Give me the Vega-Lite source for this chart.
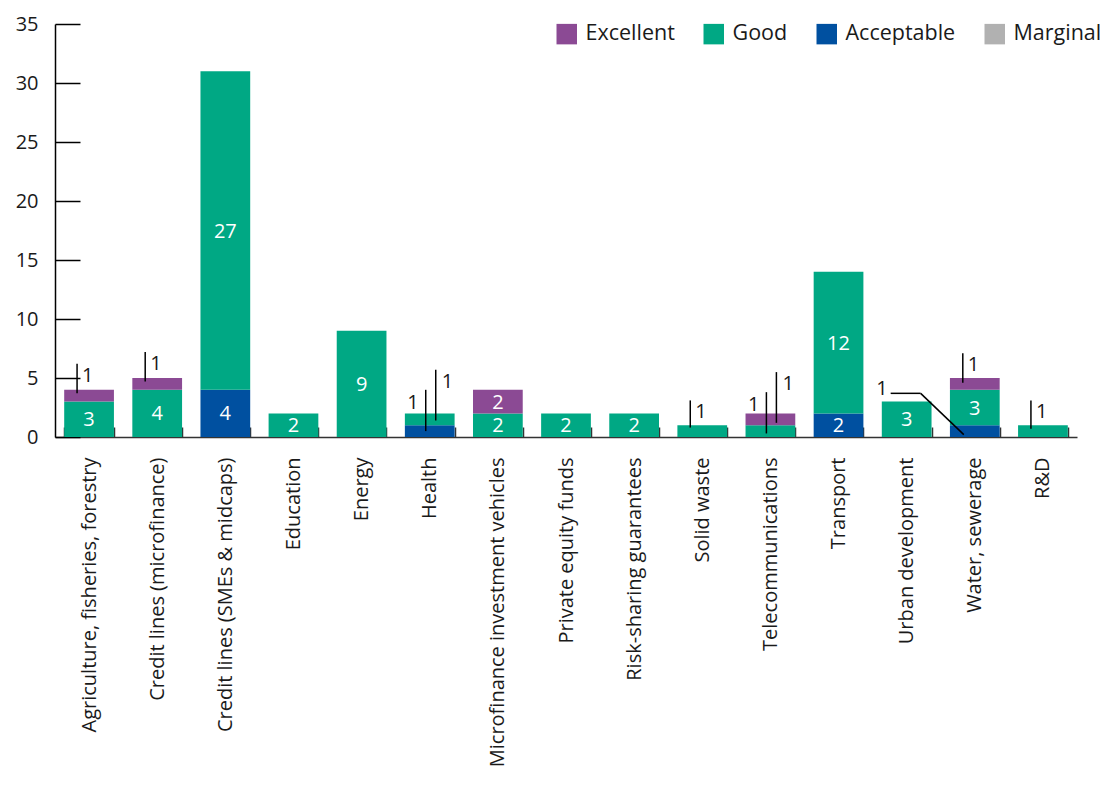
{
  "$schema": "https://vega.github.io/schema/vega-lite/v6.json",
  "width": 1022,
  "height": 413,
  "autosize": {"type": "none"},
  "padding": {"left": 55, "top": 24, "right": 24, "bottom": 352},
  "background": "white",
  "config": {
    "font": "Open Sans",
    "view": {"stroke": null},
    "axis": {"labelFont": "Open Sans", "labelColor": "#1a1a1a"},
    "legend": {"labelFont": "Open Sans"}
  },
  "datasets": {
    "ratings": [
      {"sector": "Agriculture, fisheries, forestry", "rating": "Good", "rank": 2, "count": 3},
      {"sector": "Agriculture, fisheries, forestry", "rating": "Excellent", "rank": 3, "count": 1},
      {"sector": "Credit lines (microfinance)", "rating": "Good", "rank": 2, "count": 4},
      {"sector": "Credit lines (microfinance)", "rating": "Excellent", "rank": 3, "count": 1},
      {"sector": "Credit lines (SMEs & midcaps)", "rating": "Acceptable", "rank": 1, "count": 4},
      {"sector": "Credit lines (SMEs & midcaps)", "rating": "Good", "rank": 2, "count": 27},
      {"sector": "Education", "rating": "Good", "rank": 2, "count": 2},
      {"sector": "Energy", "rating": "Good", "rank": 2, "count": 9},
      {"sector": "Health", "rating": "Acceptable", "rank": 1, "count": 1},
      {"sector": "Health", "rating": "Good", "rank": 2, "count": 1},
      {"sector": "Microfinance investment vehicles", "rating": "Good", "rank": 2, "count": 2},
      {"sector": "Microfinance investment vehicles", "rating": "Excellent", "rank": 3, "count": 2},
      {"sector": "Private equity funds", "rating": "Good", "rank": 2, "count": 2},
      {"sector": "Risk-sharing guarantees", "rating": "Good", "rank": 2, "count": 2},
      {"sector": "Solid waste", "rating": "Good", "rank": 2, "count": 1},
      {"sector": "Telecommunications", "rating": "Good", "rank": 2, "count": 1},
      {"sector": "Telecommunications", "rating": "Excellent", "rank": 3, "count": 1},
      {"sector": "Transport", "rating": "Acceptable", "rank": 1, "count": 2},
      {"sector": "Transport", "rating": "Good", "rank": 2, "count": 12},
      {"sector": "Urban development", "rating": "Good", "rank": 2, "count": 3},
      {"sector": "Water, sewerage", "rating": "Acceptable", "rank": 1, "count": 1},
      {"sector": "Water, sewerage", "rating": "Good", "rank": 2, "count": 3},
      {"sector": "Water, sewerage", "rating": "Excellent", "rank": 3, "count": 1},
      {"sector": "R&D", "rating": "Good", "rank": 2, "count": 1}
    ],
    "leaders": [
      {"sector": "Agriculture, fisheries, forestry", "kind": "single", "lo": 3.7, "hi": 6.2, "n": 1},
      {"sector": "Credit lines (microfinance)", "kind": "single", "lo": 4.7, "hi": 7.2, "n": 1},
      {"sector": "Solid waste", "kind": "single", "lo": 0.8, "hi": 3.1, "n": 1},
      {"sector": "Water, sewerage", "kind": "single", "lo": 4.6, "hi": 7.1, "n": 1},
      {"sector": "R&D", "kind": "single", "lo": 0.7, "hi": 3.1, "n": 1},
      {"sector": "Health", "kind": "pairLow", "lo": 0.5, "hi": 4.0, "n": 1},
      {"sector": "Telecommunications", "kind": "pairLow", "lo": 0.3, "hi": 3.8, "n": 1},
      {"sector": "Health", "kind": "pairHigh", "lo": 1.4, "hi": 5.7, "n": 1},
      {"sector": "Telecommunications", "kind": "pairHigh", "lo": 1.2, "hi": 5.5, "n": 1}
    ],
    "elbow": [
      {"sector": "Water, sewerage", "via": "Urban development", "lo": 0.2, "hi": 3.7, "n": 1}
    ]
  },
  "encoding": {
    "x": {
      "field": "sector",
      "type": "nominal",
      "scale": {
        "domain": ["Agriculture, fisheries, forestry", "Credit lines (microfinance)", "Credit lines (SMEs & midcaps)", "Education", "Energy", "Health", "Microfinance investment vehicles", "Private equity funds", "Risk-sharing guarantees", "Solid waste", "Telecommunications", "Transport", "Urban development", "Water, sewerage", "R&D"],
        "paddingInner": 0.27,
        "paddingOuter": 0.135
      },
      "axis": {
        "title": null,
        "labelAngle": -90,
        "labelAlign": "right",
        "labelBaseline": "middle",
        "labelFontSize": 20,
        "labelPadding": 30,
        "labelLimit": 0,
        "tickSize": -10,
        "tickBand": "extent",
        "tickColor": "#333333",
        "tickWidth": 1.5,
        "domainColor": "#333333",
        "domainWidth": 1.5
      }
    }
  },
  "layer": [
    {
      "data": {"name": "ratings"},
      "mark": {"type": "bar"},
      "encoding": {
        "y": {
          "field": "count",
          "type": "quantitative",
          "stack": "zero",
          "title": null,
          "scale": {"domain": [0, 35], "nice": false},
          "axis": {
            "title": null,
            "values": [0, 5, 10, 15, 20, 25, 30, 35],
            "grid": false,
            "tickSize": -25,
            "labelPadding": 42,
            "labelFontSize": 20,
            "domainColor": "black",
            "tickColor": "black",
            "domainWidth": 1.5,
            "tickWidth": 1.5
          }
        },
        "color": {
          "field": "rating",
          "type": "nominal",
          "scale": {
            "domain": ["Excellent", "Good", "Acceptable", "Marginal"],
            "range": ["#8b4a94", "#00a884", "#0050a0", "#b1b1b1"]
          },
          "legend": {
            "title": null,
            "orient": "none",
            "direction": "horizontal",
            "legendX": 501,
            "legendY": -1,
            "symbolType": "square",
            "symbolSize": 420,
            "symbolStrokeWidth": 0,
            "symbolOpacity": 1,
            "labelFontSize": 21.5,
            "labelOffset": 8,
            "labelColor": "#1a1a1a",
            "columnPadding": 28
          }
        },
        "order": {"field": "rank", "type": "quantitative"}
      }
    },
    {
      "data": {"name": "ratings"},
      "transform": [
        {"stack": "count", "groupby": ["sector"], "sort": [{"field": "rank", "order": "ascending"}], "as": ["y0", "y1"]},
        {"filter": "datum.count >= 2"},
        {"calculate": "(datum.y0 + datum.y1) / 2", "as": "mid"}
      ],
      "mark": {"type": "text", "color": "white", "fontSize": 20, "baseline": "middle", "dy": 1},
      "encoding": {
        "y": {"field": "mid", "type": "quantitative", "title": null},
        "text": {"field": "count", "type": "quantitative"}
      }
    },
    {
      "data": {"name": "leaders"},
      "transform": [{"filter": "datum.kind === 'single'"}],
      "mark": {"type": "rule", "color": "black", "strokeWidth": 1.5, "xOffset": -12},
      "encoding": {
        "y": {"field": "lo", "type": "quantitative", "title": null},
        "y2": {"field": "hi"}
      }
    },
    {
      "data": {"name": "leaders"},
      "transform": [{"filter": "datum.kind === 'single'"}],
      "mark": {"type": "text", "color": "#1a1a1a", "fontSize": 20, "align": "left", "baseline": "middle", "dx": -7, "dy": 12},
      "encoding": {
        "y": {"field": "hi", "type": "quantitative", "title": null},
        "text": {"field": "n", "type": "quantitative"}
      }
    },
    {
      "data": {"name": "leaders"},
      "transform": [{"filter": "datum.kind === 'pairLow'"}],
      "mark": {"type": "rule", "color": "black", "strokeWidth": 1.5, "xOffset": -4},
      "encoding": {
        "y": {"field": "lo", "type": "quantitative", "title": null},
        "y2": {"field": "hi"}
      }
    },
    {
      "data": {"name": "leaders"},
      "transform": [{"filter": "datum.kind === 'pairLow'"}],
      "mark": {"type": "text", "color": "#1a1a1a", "fontSize": 20, "align": "right", "baseline": "middle", "dx": -11, "dy": 13},
      "encoding": {
        "y": {"field": "hi", "type": "quantitative", "title": null},
        "text": {"field": "n", "type": "quantitative"}
      }
    },
    {
      "data": {"name": "leaders"},
      "transform": [{"filter": "datum.kind === 'pairHigh'"}],
      "mark": {"type": "rule", "color": "black", "strokeWidth": 1.5, "xOffset": 6},
      "encoding": {
        "y": {"field": "lo", "type": "quantitative", "title": null},
        "y2": {"field": "hi"}
      }
    },
    {
      "data": {"name": "leaders"},
      "transform": [{"filter": "datum.kind === 'pairHigh'"}],
      "mark": {"type": "text", "color": "#1a1a1a", "fontSize": 20, "align": "left", "baseline": "middle", "dx": 12, "dy": 12},
      "encoding": {
        "y": {"field": "hi", "type": "quantitative", "title": null},
        "text": {"field": "n", "type": "quantitative"}
      }
    },
    {
      "data": {"name": "elbow"},
      "mark": {"type": "rule", "color": "black", "strokeWidth": 1.5, "xOffset": -11, "x2Offset": 14},
      "encoding": {
        "x2": {"field": "via"},
        "y": {"field": "lo", "type": "quantitative", "title": null},
        "y2": {"field": "hi"}
      }
    },
    {
      "data": {"name": "elbow"},
      "mark": {"type": "rule", "color": "black", "strokeWidth": 1.5, "xOffset": 14, "x2Offset": -16},
      "encoding": {
        "x": {"field": "via", "type": "nominal"},
        "x2": {"field": "via"},
        "y": {"field": "hi", "type": "quantitative", "title": null}
      }
    },
    {
      "data": {"name": "elbow"},
      "mark": {"type": "text", "color": "#1a1a1a", "fontSize": 20, "align": "right", "baseline": "middle", "dx": -19, "dy": -4},
      "encoding": {
        "x": {"field": "via", "type": "nominal"},
        "y": {"field": "hi", "type": "quantitative", "title": null},
        "text": {"field": "n", "type": "quantitative"}
      }
    }
  ]
}
